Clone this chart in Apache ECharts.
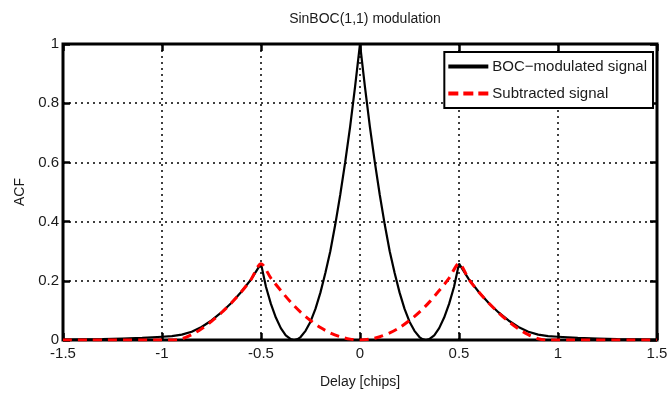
<!DOCTYPE html>
<html><head><meta charset="utf-8">
<script src="https://cdn.jsdelivr.net/npm/echarts@6/dist/echarts.min.js"></script>
<style>html,body{margin:0;padding:0;background:#fff}#c{width:671px;height:396px}</style>
</head><body><div id="c"></div>
<script>
const titleText = 'SinBOC(1,1) modulation';
const xName = 'Delay [chips]';
const yName = 'ACF';
const seriesNames = ['BOC\u2212modulated signal', 'Subtracted signal'];

const delayBoc = [-1.5,-1.4,-1.3,-1.2,-1.1,-1.0,-0.95,-0.9,-0.85,-0.8,-0.75,-0.7,-0.65,-0.6,-0.55,-0.5,-0.475,-0.45,-0.425,-0.4,-0.375,-0.35,-0.333,-0.315,-0.3,-0.275,-0.25,-0.225,-0.2,-0.175,-0.15,-0.125,-0.1,-0.075,-0.05,-0.025,0,
  0.025,0.05,0.075,0.1,0.125,0.15,0.175,0.2,0.225,0.25,0.275,0.3,0.315,0.333,0.35,0.375,0.4,0.425,0.45,0.475,0.5,0.55,0.6,0.65,0.7,0.75,0.8,0.85,0.9,0.95,1.0,1.1,1.2,1.3,1.4,1.5];
const acfBoc = [0.001,0.002,0.003,0.005,0.007,0.011,0.013,0.018,0.028,0.044,0.066,0.093,0.125,0.162,0.205,0.258,0.18,0.122,0.076,0.04,0.016,0.003,0,0.003,0.01,0.031,0.062,0.105,0.16,0.226,0.30,0.39,0.49,0.60,0.72,0.855,1.0,
  0.855,0.72,0.60,0.49,0.39,0.30,0.226,0.16,0.105,0.062,0.031,0.01,0.003,0,0.003,0.016,0.04,0.076,0.122,0.18,0.258,0.205,0.162,0.125,0.093,0.066,0.044,0.028,0.018,0.013,0.011,0.007,0.005,0.003,0.002,0.001];

const delaySub = [-1.5,-1.0,-0.95,-0.9,-0.85,-0.8,-0.75,-0.7,-0.65,-0.6,-0.55,-0.5,-0.45,-0.4,-0.35,-0.3,-0.25,-0.2,-0.15,-0.1,-0.05,0,
  0.05,0.1,0.15,0.2,0.25,0.3,0.35,0.4,0.45,0.5,0.55,0.6,0.65,0.7,0.75,0.8,0.85,0.9,0.95,1.0,1.5];
const acfSub = [0,0,0,0.004,0.018,0.038,0.063,0.092,0.125,0.162,0.205,0.258,0.209,0.167,0.128,0.094,0.066,0.042,0.024,0.011,0.003,0,
  0.003,0.011,0.024,0.042,0.066,0.094,0.128,0.167,0.209,0.258,0.205,0.162,0.125,0.092,0.063,0.038,0.018,0.004,0,0,0];

const xMin = -1.5, xMax = 1.5, xStep = 0.5;
const yMin = 0, yMax = 1, yStep = 0.2;

const FONT = '"Liberation Sans Narrow", "Liberation Sans", Arial, sans-serif';
const txt = '#1a1a1a';

function pairs(xs, ys){ return xs.map((x,i)=>[x, ys[i]]); }

const chart = echarts.init(document.getElementById('c'), null, {renderer:'canvas'});
const gridLine = {show:true, lineStyle:{color:'#000', width:1.5, type:[2,4]}};
const tick = {show:true, inside:true, length:7, lineStyle:{color:'#000', width:2.5}};
const solidIcon = 'path://M0,0h40v4h-40z';
const dashIcon = 'path://M0,0h10v4h-10z M15,0h10v4h-10z M30,0h10v4h-10z';
chart.setOption({
  animation:false,
  backgroundColor:'#fff',
  title:{text:titleText, left:360, textAlign:'center', top:7, textStyle:{fontFamily:FONT, fontSize:14, fontWeight:'normal', color:txt}},
  grid:{left:63, right:14, top:44, bottom:56, show:true, borderColor:'#000', borderWidth:3, backgroundColor:'#fff'},
  legend:{
    orient:'vertical', right:18, top:52, itemWidth:44, itemHeight:4, itemGap:12,
    padding:[7,6,7,4], borderColor:'#000', borderWidth:2, backgroundColor:'#fff',
    textStyle:{fontFamily:FONT, fontSize:15, color:txt, padding:[0,0,0,-3]},
    data:[{name:seriesNames[0], icon:solidIcon, itemStyle:{color:'#000'}},
          {name:seriesNames[1], icon:dashIcon, itemStyle:{color:'#ff0000'}}]
  },
  xAxis:[{
    type:'value', min:xMin, max:xMax, interval:xStep,
    name:xName, nameLocation:'middle', nameGap:35,
    nameTextStyle:{fontFamily:FONT, fontSize:14, color:txt},
    axisLine:{show:false, onZero:false}, axisTick:tick, splitLine:gridLine,
    axisLabel:{fontFamily:FONT, fontSize:15, color:txt, margin:6}
  },{
    type:'value', position:'top', min:xMin, max:xMax, interval:xStep,
    axisLine:{show:false, onZero:false}, axisTick:tick, splitLine:{show:false}, axisLabel:{show:false}
  }],
  yAxis:[{
    type:'value', min:yMin, max:yMax, interval:yStep,
    name:yName, nameLocation:'middle', nameGap:31,
    nameTextStyle:{fontFamily:FONT, fontSize:14, color:txt},
    axisLine:{show:false, onZero:false}, axisTick:tick, splitLine:gridLine,
    axisLabel:{fontFamily:FONT, fontSize:15, color:txt, margin:4}
  },{
    type:'value', position:'right', min:yMin, max:yMax, interval:yStep,
    axisLine:{show:false, onZero:false}, axisTick:tick, splitLine:{show:false}, axisLabel:{show:false}
  }],
  series:[{
    name:seriesNames[0], type:'line', data:pairs(delayBoc, acfBoc), symbol:'none', smooth:false,
    lineStyle:{color:'#000', width:2.2}, itemStyle:{color:'#000'}, z:3
  },{
    name:seriesNames[1], type:'line', data:pairs(delaySub, acfSub), symbol:'none', smooth:0.3,
    lineStyle:{color:'#ff0000', width:3, type:[9,6]}, itemStyle:{color:'#ff0000'}, z:4
  }]
});
</script></body></html>
